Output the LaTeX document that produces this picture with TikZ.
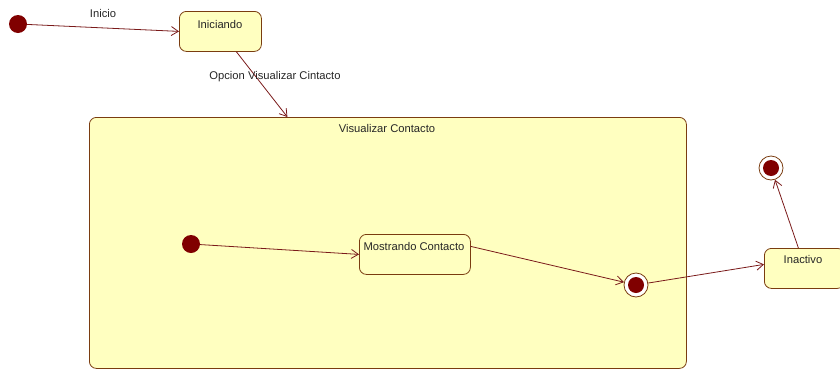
\documentclass[tikz,border=0pt]{standalone}
\usepackage{fontspec}
\setmainfont{Liberation Sans}
\usetikzlibrary{arrows.meta}
\definecolor{stfill}{HTML}{FFFFC0}
\definecolor{stborder}{HTML}{7A3C10}
\definecolor{dotred}{HTML}{800000}
\definecolor{linered}{HTML}{7A1A1A}
\tikzset{
  statebox/.style={draw=stborder, fill=stfill, line width=0.8pt, rounded corners=7pt, inner sep=0pt},
  initdot/.style={circle, fill=dotred, minimum size=18pt, inner sep=0pt},
  finalring/.style={circle, draw=stborder, fill=white, line width=0.8pt, minimum size=24pt, inner sep=0pt},
  finaldot/.style={circle, fill=dotred, minimum size=16pt, inner sep=0pt},
  lbl/.style={font=\fontsize{11.2}{13}\selectfont, inner sep=0pt, anchor=base, text=black!85},
  trans/.style={draw=linered, line width=0.8pt, -{Straight Barb[length=7pt,width=9pt,line width=0.8pt]}}
}
\begin{document}
\begin{tikzpicture}[x=1pt,y=-1pt]
\useasboundingbox (0,0) rectangle (840,370);
% big composite state
\node[statebox, minimum width=597pt, minimum height=251pt, anchor=north west] (vis) at (89,117) {};
\node[lbl] (vist) at (387,132) {Visualizar Contacto};
% top states
\node[initdot] (i0) at (18,24) {};
\node[statebox, minimum width=82pt, minimum height=40pt, anchor=north west] (ini) at (179,11) {};
\node[lbl] (init) at (220,28) {Iniciando};
% inner
\node[initdot] (i1) at (191,244) {};
\node[statebox, minimum width=111pt, minimum height=40pt, anchor=north west] (most) at (359,234) {};
\node[lbl] (mostt) at (414,250) {Mostrando Contacto};
\node[finalring] (f1) at (636,285) {};
\node[finaldot] (f1d) at (636,285) {};
% right
\node[statebox, minimum width=80pt, minimum height=40pt, anchor=north west] (inac) at (764,248) {};
\node[lbl] (inact) at (803,263) {Inactivo};
\node[finalring] (f2) at (771,168) {};
\node[finaldot] (f2d) at (771,168) {};
% transitions
\draw[trans] (i0) -- (ini.west);
\node[lbl] (l1) at (103,17) {Inicio};
\draw[trans] ([xshift=16pt]ini.south) -- ([xshift=-100.5pt]vis.north);
\node[lbl] (l2) at (275,79) {Opcion Visualizar Cintacto};
\draw[trans] (i1) -- (most.west);
\draw[trans] ([yshift=8pt]most.east) -- (f1);
\draw[trans] (f1) -- ([yshift=4pt]inac.west);
\draw[trans] ([xshift=-6pt]inac.north) -- (f2);
\end{tikzpicture}
\end{document}
